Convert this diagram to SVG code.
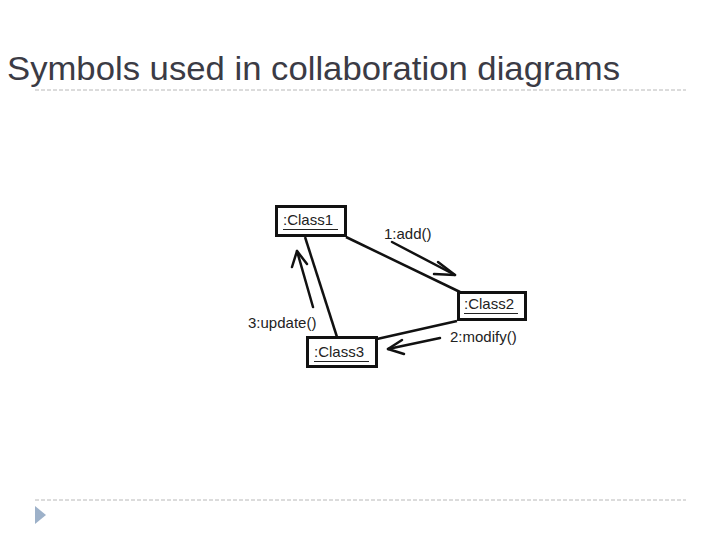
<svg xmlns="http://www.w3.org/2000/svg" width="720" height="540" viewBox="0 0 720 540">
<style>
.title{font-family:"Liberation Sans",Arial,sans-serif;font-size:33px;fill:#3b3b45}
.sep{stroke:#b8b8b8;stroke-width:1;stroke-dasharray:4,2;fill:none}
.box{fill:#fff;stroke:#111;stroke-width:3}
.lbl{font-family:"Liberation Sans",Arial,sans-serif;font-size:15px;fill:#222}
.ul{stroke:#222;stroke-width:1}
.conn{stroke:#111;stroke-width:2.5;fill:none}
.msg{stroke:#111;stroke-width:2.5;fill:none;stroke-linecap:round;stroke-linejoin:round}
</style>
<rect width="720" height="540" fill="#fff"/>
<text class="title" x="7" y="80" textLength="613" lengthAdjust="spacingAndGlyphs">Symbols used in collaboration diagrams</text>
<line class="sep" x1="35" y1="90" x2="686" y2="90"/>
<line class="sep" x1="35" y1="500" x2="686" y2="500"/>
<polygon points="35,506 46,515 35,524" fill="#9db1c9"/>
<g id="connectors">
<line class="conn" x1="346" y1="237" x2="460" y2="292"/>
<line class="conn" x1="305" y1="237" x2="337" y2="337"/>
<line class="conn" x1="457" y1="321" x2="377" y2="339"/>
<g id="msg1">
<line class="msg" x1="392" y1="242" x2="455" y2="275"/>
<polyline class="msg" points="438,262 455,275 434,274"/>
<text class="lbl" x="384" y="239">1:add()</text>
</g>
<g id="msg2">
<line class="msg" x1="440" y1="338" x2="388" y2="349"/>
<polyline class="msg" points="402,340 388,349 404,354"/>
<text class="lbl" x="450" y="342">2:modify()</text>
</g>
<g id="msg3">
<line class="msg" x1="313" y1="307" x2="297" y2="251"/>
<polyline class="msg" points="292,267 297,251 307,264"/>
<text class="lbl" x="248" y="328">3:update()</text>
</g>
</g>
<g id="class1">
<rect class="box" x="276.5" y="206.5" width="69" height="29"/>
<text class="lbl" x="283" y="225">:Class1</text>
<line class="ul" x1="283" y1="229.5" x2="338" y2="229.5"/>
</g>
<g id="class2">
<rect class="box" x="458.5" y="292.5" width="67" height="27"/>
<text class="lbl" x="464" y="309">:Class2</text>
<line class="ul" x1="464" y1="313.5" x2="518" y2="313.5"/>
</g>
<g id="class3">
<rect class="box" x="307.5" y="337.5" width="69" height="29"/>
<text class="lbl" x="314" y="357">:Class3</text>
<line class="ul" x1="314" y1="361.5" x2="369" y2="361.5"/>
</g>
</svg>
